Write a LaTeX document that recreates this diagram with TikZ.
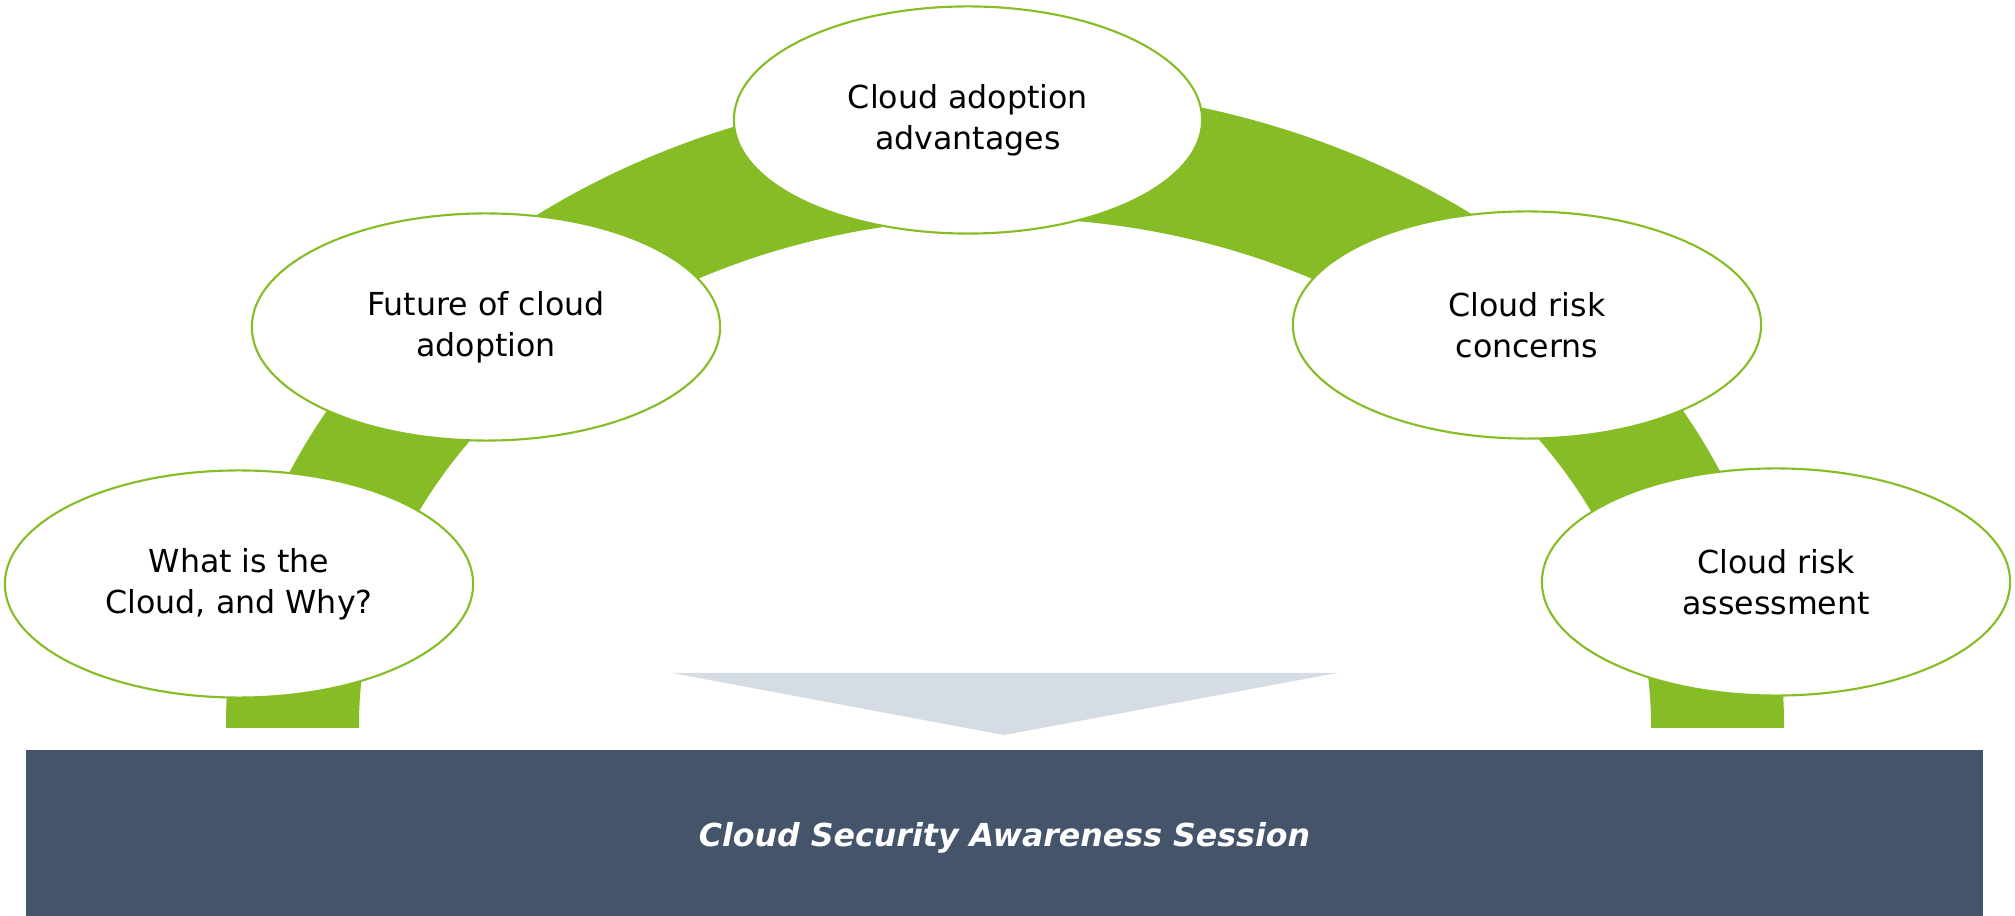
\documentclass[tikz,border=0pt]{standalone}
\usepackage{fontspec}
\setmainfont{DejaVu Sans}
\usepackage{color}
\definecolor{mygreen}{RGB}{134,188,37}
\definecolor{myslate}{RGB}{68,84,106}
\definecolor{mymist}{RGB}{214,220,228}
\usepackage{tikz}
\usetikzlibrary{shapes.geometric,positioning}
\tikzstyle{bubble}=[draw=mygreen,line width=0.6pt,fill=white,ellipse,minimum width=4.68cm,minimum height=2.27cm,inner sep=0pt,align=center,font=\fontsize{9}{11.7}\selectfont]
\tikzstyle{banner}=[fill=myslate,minimum width=19.55cm,minimum height=1.76cm,inner sep=0pt,text=white,font=\fontsize{9}{11}\selectfont\bfseries\itshape]

\begin{document}
\begin{tikzpicture}[x=0.01cm,y=-0.01cm]
\useasboundingbox (0,0) rectangle (2015,916);
% green arch behind the bubbles
\fill[mygreen] (226,728) -- (226,725)
  arc[start angle=180,end angle=360,x radius=779,y radius=638]
  -- (1784,728) -- (1651,728) -- (1651,725)
  arc[start angle=0,end angle=-180,x radius=646,y radius=507]
  -- (359,728) -- cycle;
\node [bubble] (n1) at (239,584) {What is the\\Cloud, and Why?};
\node [bubble] (n2) at (486,327) {Future of cloud\\adoption};
\node [bubble] (n3) at (968,120) {Cloud adoption\\advantages};
\node [bubble] (n4) at (1527,325) {Cloud risk\\concerns};
\node [bubble] (n5) at (1776,582) {Cloud risk\\assessment};
% session bar
\node [banner] (bar) at (1004.5,838) {Cloud Security Awareness Session};
\fill[mymist] (672,673) -- (1337,673) -- (1004,735) -- cycle;
\end{tikzpicture}
\end{document}
